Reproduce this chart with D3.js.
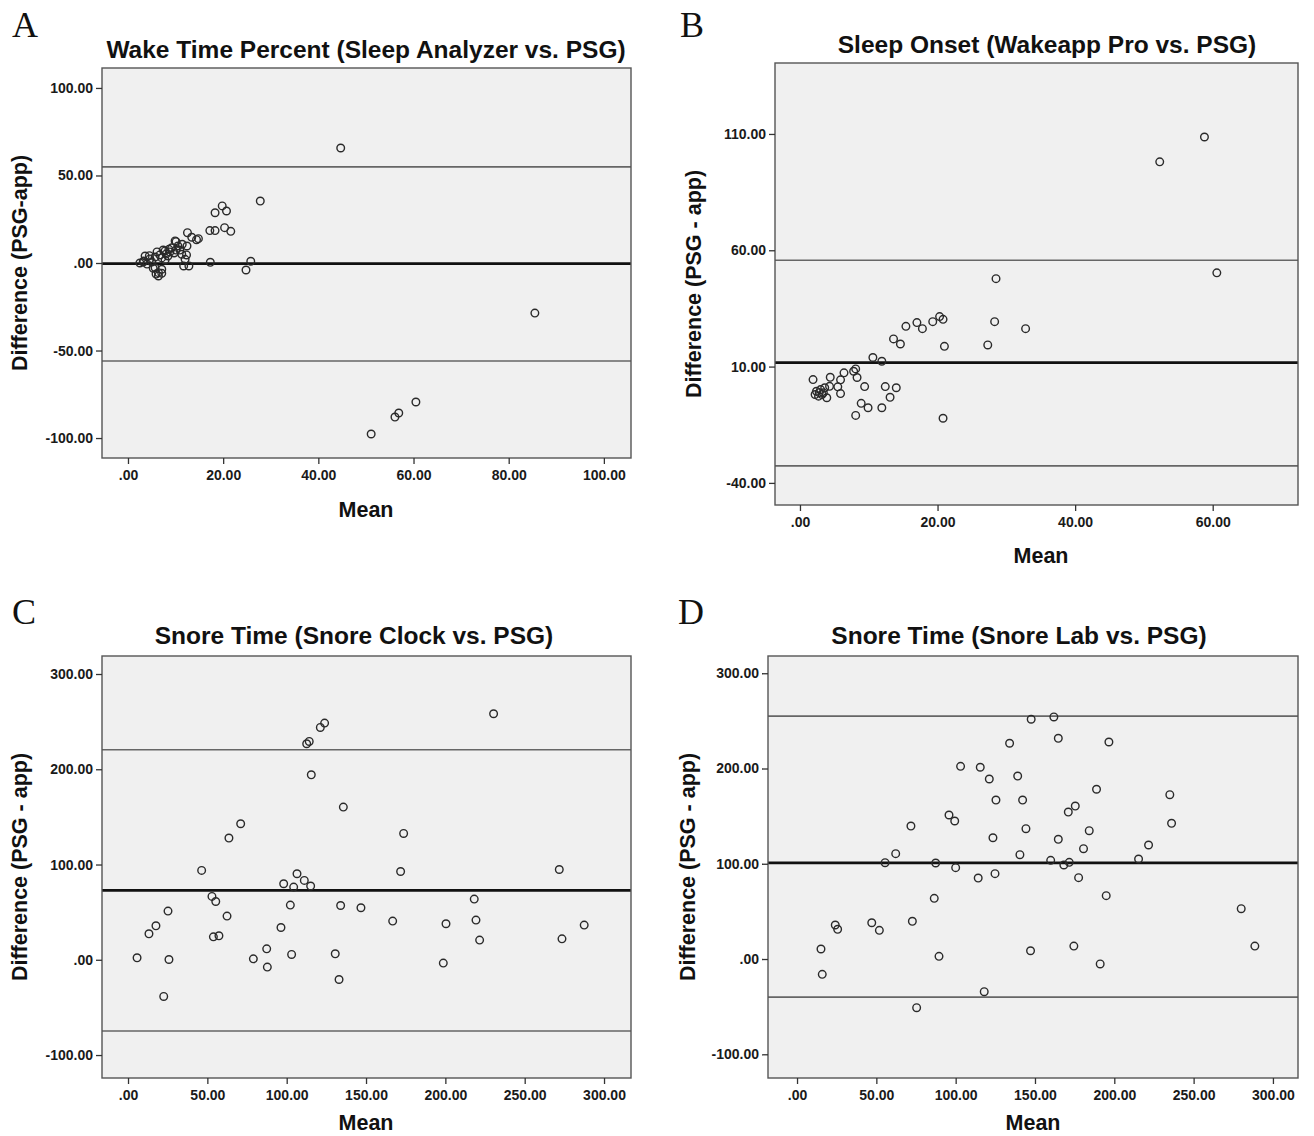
<!DOCTYPE html>
<html>
<head>
<meta charset="utf-8">
<script src="https://cdn.jsdelivr.net/npm/d3@7"></script>
<style>
  html, body { margin: 0; padding: 0; background: #ffffff; }
  svg { display: block; }
  .tick text { font-family: "Liberation Sans", Arial, sans-serif; font-weight: bold; font-size: 14px; fill: #1a1a1a; }
</style>
</head>
<body>
<svg id="chart" width="1314" height="1136"></svg>
<script>
// ---------------- DATA ----------------
// Panel titles and labels
const panelLetters = ["A", "B", "C", "D"];
const panelTitles = [
  "Wake Time Percent (Sleep Analyzer vs. PSG)",
  "Sleep Onset (Wakeapp Pro vs. PSG)",
  "Snore Time (Snore Clock vs. PSG)",
  "Snore Time (Snore Lab vs. PSG)"
];
const yAxisTitles = ["Difference (PSG-app)", "Difference (PSG - app)", "Difference (PSG - app)", "Difference (PSG - app)"];
const xAxisTitle = "Mean";

// Tick values
const aXTicks = [0, 20, 40, 60, 80, 100];
const aYTicks = [-100, -50, 0, 50, 100];
const bXTicks = [0, 20, 40, 60];
const bYTicks = [-40, 10, 60, 110];
const cXTicks = [0, 50, 100, 150, 200, 250, 300];
const cYTicks = [-100, 0, 100, 200, 300];
const dXTicks = [0, 50, 100, 150, 200, 250, 300];
const dYTicks = [-100, 0, 100, 200, 300];

// Reference lines: [upper limit of agreement, mean difference, lower limit]
const aRefLines = [54.9, -0.3, -56.0];
const bRefLines = [55.7, 11.7, -32.7];
const cRefLines = [220.5, 72.8, -74.8];
const dRefLines = [255.0, 101.0, -40.0];

// Panel A: Wake Time Percent  (mean, difference)
const aMean = [2.5, 3.2, 3.6, 3.3, 4.0, 4.6, 5.0, 5.7, 5.7, 6.4, 7.1, 6.1, 6.7, 7.1, 7.8, 7.4, 8.0, 8.4, 8.8, 7.8,
  8.6, 9.2, 9.7, 10.1, 10.5, 9.9, 10.9, 11.3, 12.0, 11.7, 12.8, 4.5, 5.3, 5.9, 6.4, 7.1,
  10.1, 11.4, 12.4, 12.3, 12.5, 13.4, 14.4, 14.8, 17.2, 18.3, 20.3, 21.6, 18.3, 19.8, 20.7, 27.8,
  17.3, 25.8, 24.8, 44.7, 85.5, 51.1, 56.1, 56.9, 60.5];
const aDiff = [0.0, 0.6, 4.0, 1.1, -0.6, 2.3, 0.6, 3.4, -2.7, -5.5, -3.6, 6.3, 4.6, 2.9, 1.7, 7.4, 5.1, 4.0, 6.3, 6.9,
  7.8, 8.7, 5.7, 7.4, 9.7, 12.6, 7.4, 5.0, 2.1, -1.7, -1.7, 4.2, -3.0, -6.3, -7.4, -5.9,
  12.2, 10.7, 9.7, 4.6, 17.3, 14.7, 13.3, 13.9, 18.5, 18.5, 20.2, 18.1, 28.7, 32.6, 29.7, 35.4,
  0.4, 1.0, -4.0, 65.7, -28.6, -97.7, -88.0, -85.7, -79.4];

// Panel B: Sleep Onset
const bMean = [28.5, 28.3, 32.8, 27.3, 21.0, 20.8, 20.3, 20.8, 19.3, 17.0, 17.8, 15.4, 13.6, 14.6, 10.6, 11.9,
  8.1, 7.8, 8.3, 6.4, 5.9, 4.4, 1.9, 5.5, 5.9, 9.4, 12.4, 14.0, 13.1, 8.9, 9.9, 11.9, 8.1,
  2.4, 2.7, 3.0, 3.4, 3.9, 4.3, 3.6, 3.2, 2.2, 2.8, 52.3, 58.8, 60.6];
const bDiff = [47.8, 29.3, 26.3, 19.3, 18.7, -12.2, 31.5, 30.3, 29.3, 28.9, 26.3, 27.3, 21.9, 19.7, 13.9, 12.3,
  9.0, 8.0, 5.3, 7.3, 4.3, 5.4, 4.4, 1.3, -1.6, 1.4, 1.4, 0.9, -3.2, -5.8, -7.7, -7.7, -11.0,
  -0.6, -2.7, 0.1, -1.3, -3.4, 1.5, 0.9, -2.0, -2.0, -1.2, 98.0, 108.7, 50.3];

// Panel C: Snore Time (Snore Clock)
const cMean = [5.7, 13.2, 17.6, 25.2, 25.8, 22.5, 46.4, 52.9, 55.3, 53.8, 57.3, 62.4, 63.6, 71.0, 79.0, 87.4,
  87.8, 96.4, 98.1, 102.3, 103.1, 104.4, 106.5, 111.1, 115.1, 112.6, 114.2, 121.2, 123.9, 115.5, 135.7,
  134.0, 130.6, 133.0, 146.8, 230.4, 173.7, 171.8, 271.8, 218.2, 219.3, 221.6, 200.4, 198.7, 166.8, 273.5, 287.5];
const cDiff = [2.1, 27.3, 35.7, 51.1, 0.3, -38.5, 93.8, 66.5, 61.2, 24.1, 25.2, 45.9, 127.8, 142.8, 1.0, 11.5,
  -7.7, 33.9, 79.8, 57.4, 5.6, 76.3, 90.3, 83.3, 77.4, 226.8, 229.2, 243.9, 248.5, 194.2, 160.3,
  57.0, 6.3, -20.7, 54.6, 258.3, 132.6, 92.7, 94.8, 63.7, 41.7, 20.7, 37.8, -3.5, 40.6, 22.0, 36.4];

// Panel D: Snore Time (Snore Lab)
const dMean = [147.6, 134.0, 103.1, 115.5, 121.2, 139.1, 125.4, 142.2, 95.8, 99.4, 71.8, 144.3, 123.5, 140.5,
  62.2, 55.5, 87.4, 100.0, 114.2, 124.8, 86.5, 24.1, 25.6, 47.1, 51.9, 72.7, 15.1, 15.9, 89.5, 147.2,
  118.0, 75.4, 161.9, 164.7, 196.6, 188.8, 235.0, 175.4, 171.0, 184.2, 236.1, 164.7, 180.6, 221.6,
  159.9, 168.2, 171.6, 215.3, 177.5, 194.9, 280.0, 288.6, 174.5, 191.1];
const dDiff = [251.7, 226.5, 202.3, 201.3, 189.0, 192.1, 166.9, 166.9, 151.2, 144.9, 139.6, 136.8, 127.3, 109.5,
  110.6, 101.1, 100.8, 95.9, 85.0, 89.6, 63.7, 35.7, 31.2, 38.1, 30.1, 39.6, 10.5, -16.1, 2.8, 8.7,
  -34.3, -51.1, 254.1, 231.7, 227.8, 178.2, 172.5, 160.6, 154.3, 134.7, 142.5, 125.7, 115.8, 119.7,
  103.6, 98.7, 101.5, 105.0, 85.4, 66.5, 52.8, 13.6, 13.6, -5.2];

// ---------------- LAYOUT ----------------
const panels = [
  { mean: aMean, diff: aDiff, xt: aXTicks, yt: aYTicks, ref: aRefLines,
    box: { l: 102, t: 68, r: 631, b: 458 }, xd: [-5.46, 105.7], yd: [-111.4, 111.4],
    letter: { x: 12, y: 37 }, title: { x: 366, y: 58 }, ylab: { x: 20 }, xlab: { x: 366, y: 517 } },
  { mean: bMean, diff: bDiff, xt: bXTicks, yt: bYTicks, ref: bRefLines,
    box: { l: 775, t: 63, r: 1298, b: 505 }, xd: [-3.63, 72.4], yd: [-49.5, 140.5],
    letter: { x: 680, y: 37 }, title: { x: 1047, y: 53 }, ylab: { x: 694 }, xlab: { x: 1041, y: 563 } },
  { mean: cMean, diff: cDiff, xt: cXTicks, yt: cYTicks, ref: cRefLines,
    box: { l: 102, t: 656, r: 631, b: 1078 }, xd: [-16.4, 317.0], yd: [-124.1, 318.9],
    letter: { x: 12, y: 624 }, title: { x: 354, y: 644 }, ylab: { x: 20 }, xlab: { x: 366, y: 1130 } },
  { mean: dMean, diff: dDiff, xt: dXTicks, yt: dYTicks, ref: dRefLines,
    box: { l: 768, t: 656, r: 1298, b: 1078 }, xd: [-18.3, 315.8], yd: [-124.9, 318.1],
    letter: { x: 678, y: 624 }, title: { x: 1019, y: 644 }, ylab: { x: 688 }, xlab: { x: 1033, y: 1130 } }
];

const locale = d3.formatLocale({ decimal: ".", thousands: ",", grouping: [3], currency: ["", ""], minus: "-" });
const f2 = locale.format(".2f");
const fmt = d => f2(d).replace(/^(-?)0\./, "$1.");
const svg = d3.select("#chart");
const SANS = '"Liberation Sans", Arial, sans-serif';
const SERIF = '"Liberation Serif", "Times New Roman", serif';

panels.forEach((p, i) => {
  const x = d3.scaleLinear().domain(p.xd).range([p.box.l, p.box.r]);
  const y = d3.scaleLinear().domain(p.yd).range([p.box.b, p.box.t]);
  const g = svg.append("g");

  // plot background
  g.append("rect")
    .attr("x", p.box.l).attr("y", p.box.t)
    .attr("width", p.box.r - p.box.l).attr("height", p.box.b - p.box.t)
    .attr("fill", "#f0f0f0");

  // reference lines
  p.ref.forEach((v, k) => {
    g.append("line")
      .attr("x1", p.box.l).attr("x2", p.box.r)
      .attr("y1", y(v)).attr("y2", y(v))
      .attr("stroke", k === 1 ? "#111" : "#666")
      .attr("stroke-width", k === 1 ? 2.8 : 1.6);
  });

  // points
  g.append("g").selectAll("circle")
    .data(p.mean.map((m, j) => [m, p.diff[j]]))
    .join("circle")
    .attr("cx", d => x(d[0])).attr("cy", d => y(d[1]))
    .attr("r", 3.8)
    .attr("fill", "none")
    .attr("stroke", "#2a2a2a")
    .attr("stroke-width", 1.4);

  // frame
  g.append("rect")
    .attr("x", p.box.l).attr("y", p.box.t)
    .attr("width", p.box.r - p.box.l).attr("height", p.box.b - p.box.t)
    .attr("fill", "none").attr("stroke", "#555").attr("stroke-width", 1.4);

  // axes
  const ya = g.append("g").attr("transform", `translate(${p.box.l},0)`)
    .call(d3.axisLeft(y).tickValues(p.yt).tickFormat(fmt).tickSize(6).tickPadding(3));
  const xa = g.append("g").attr("transform", `translate(0,${p.box.b})`)
    .call(d3.axisBottom(x).tickValues(p.xt).tickFormat(fmt).tickSize(6).tickPadding(6));
  [ya, xa].forEach(a => {
    a.select(".domain").remove();
    a.selectAll(".tick line").attr("stroke", "#333").attr("stroke-width", 1.3);
  });

  // panel letter
  svg.append("text").attr("x", p.letter.x).attr("y", p.letter.y)
    .attr("font-family", SERIF).attr("font-size", 36).attr("fill", "#111")
    .text(panelLetters[i]);

  // title
  svg.append("text").attr("x", p.title.x).attr("y", p.title.y)
    .attr("text-anchor", "middle")
    .attr("font-family", SANS).attr("font-weight", "bold").attr("font-size", 24.5).attr("fill", "#111")
    .text(panelTitles[i]);

  // y axis title
  const cy = (p.box.t + p.box.b) / 2;
  svg.append("text")
    .attr("transform", `translate(${p.ylab.x},${cy}) rotate(-90)`)
    .attr("text-anchor", "middle").attr("dominant-baseline", "central")
    .attr("font-family", SANS).attr("font-weight", "bold").attr("font-size", 21.5).attr("fill", "#111")
    .text(yAxisTitles[i]);

  // x axis title
  svg.append("text")
    .attr("x", p.xlab.x).attr("y", p.xlab.y)
    .attr("text-anchor", "middle")
    .attr("font-family", SANS).attr("font-weight", "bold").attr("font-size", 21.5).attr("fill", "#111")
    .text(xAxisTitle);
});
</script>
</body>
</html>
